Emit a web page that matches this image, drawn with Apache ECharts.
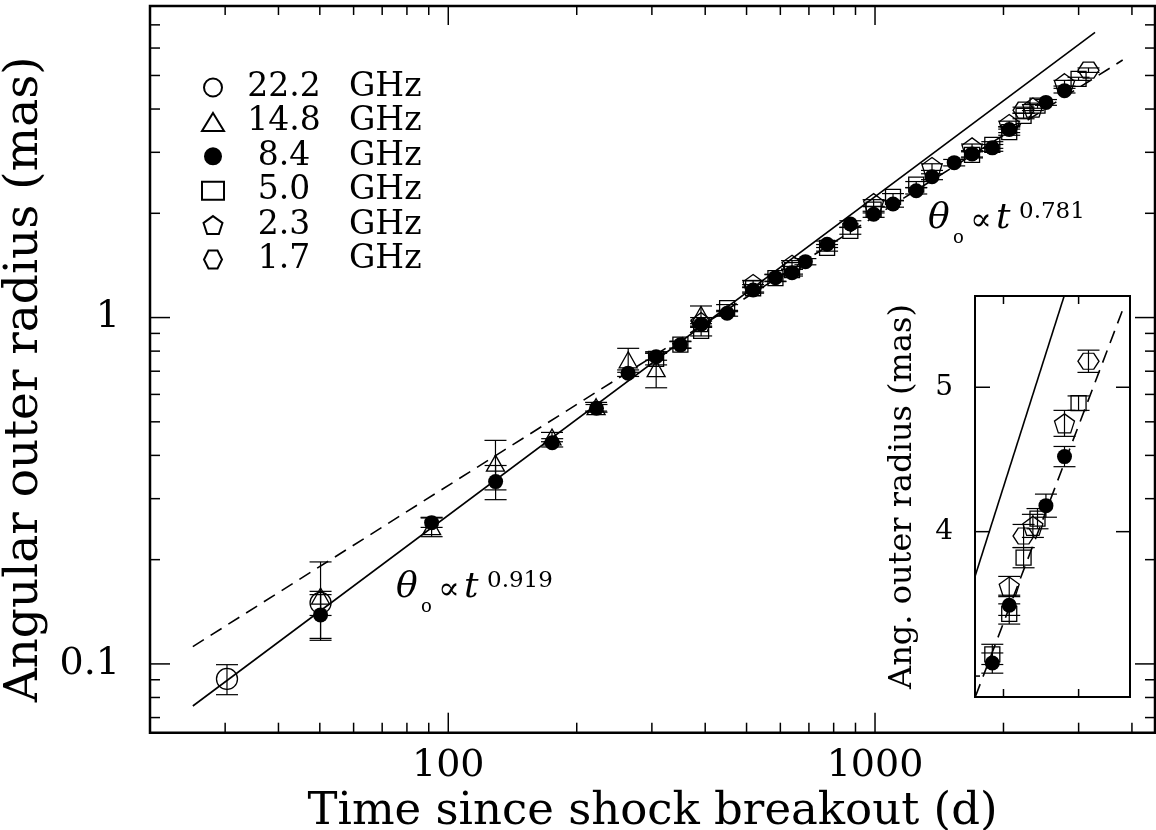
<!DOCTYPE html>
<html lang="en">
<head>
<meta charset="utf-8">
<title>SN 1993J angular expansion</title>
<script src="https://cdn.jsdelivr.net/npm/echarts@6.0.0/dist/echarts.min.js"></script>
<style>
  html, body { margin: 0; padding: 0; background: #ffffff; }
  #chart { width: 1156px; height: 830px; }
</style>
</head>
<body>
<div id="chart"></div>
<script>
// Angular outer radius by epoch, one list per observing band:
// [days since shock breakout, radius (mas), 1-sigma error (mas)]
const band222 = [
  [30.3, 0.0905, 0.009], [50.2, 0.150, 0.012]
];
const band148 = [
  [50.2, 0.157, 0.040], [91.4, 0.249, 0.016], [129, 0.380, 0.062], [175, 0.452, 0.014],
  [222, 0.553, 0.016], [264, 0.755, 0.060], [307, 0.712, 0.085], [391, 1.02, 0.06]
];
const band84 = [
  [50.2, 0.1385, 0.020], [91.4, 0.2558, 0.008], [129.1, 0.336, 0.038], [175.2, 0.435, 0.012],
  [222.5, 0.547, 0.014], [263.9, 0.691, 0.015], [306.9, 0.771, 0.018], [349.9, 0.834, 0.018],
  [391.3, 0.957, 0.020], [450.2, 1.029, 0.020], [518, 1.201, 0.025], [584.3, 1.304, 0.030],
  [639, 1.348, 0.030], [686.8, 1.450, 0.030], [772.1, 1.628, 0.035], [875.3, 1.863, 0.040],
  [992.5, 1.987, 0.040], [1102, 2.128, 0.045], [1249, 2.324, 0.050], [1360, 2.551, 0.050],
  [1533, 2.801, 0.060], [1688, 2.968, 0.060], [1883, 3.09, 0.070], [2063, 3.49, 0.070],
  [2515, 4.18, 0.080], [2780, 4.52, 0.070]
];
const band50 = [
  [306.9, 0.760, 0.030], [349.9, 0.835, 0.020], [391.3, 0.915, 0.030], [450.2, 1.065, 0.025],
  [518, 1.215, 0.030], [584.3, 1.300, 0.030], [639, 1.370, 0.035], [772.1, 1.590, 0.035],
  [875.3, 1.780, 0.040], [992.5, 2.050, 0.045], [1102, 2.230, 0.050], [1249, 2.420, 0.050],
  [1688, 2.950, 0.060], [1883, 3.15, 0.070], [2063, 3.43, 0.070], [2229, 3.82, 0.070],
  [2403, 4.09, 0.070], [2999, 4.89, 0.050]
];
const band23 = [
  [391.3, 0.970, 0.030], [518, 1.250, 0.030], [639, 1.420, 0.040], [992.5, 2.140, 0.050],
  [1360, 2.720, 0.060], [1688, 3.100, 0.070], [2063, 3.62, 0.070], [2344, 4.04, 0.080],
  [2780, 4.75, 0.090]
];
const band17 = [
  [2229, 3.97, 0.080], [3164, 5.18, 0.077]
];

// Power-law fits, each drawn as the straight segment between its end points [day, mas]
const fitSteep = [[25.2, 0.0756], [3278, 6.66]];     // theta_o ~ t^0.919
const fitShallow = [[25.2, 0.1122], [3805, 5.54]];   // theta_o ~ t^0.781
// The same two fits across the late-time window
const insetFitSteep = [[1715, 3.69], [2775, 5.632]];
const insetFitShallow = [[1720, 2.86], [3810, 5.54]];
const fitExponents = ['0.919', '0.781'];

// Axis ranges, ticks and labelled values
const X_RANGE = [20, 4530];
const Y_RANGE = [0.0633, 7.935];
const INSET_X_RANGE = [1715, 3959];
const INSET_Y_RANGE = [2.855, 5.632];
const xMajorTicks = [100, 1000];
const xMinorTicks = [30, 40, 50, 60, 70, 80, 90, 200, 300, 400, 500, 600, 700, 800, 900, 2000, 3000, 4000];
const yMajorTicks = [0.1, 1];
const yMinorTicks = [0.07, 0.08, 0.09, 0.2, 0.3, 0.4, 0.5, 0.6, 0.7, 0.8, 0.9, 2, 3, 4, 5, 6, 7];
const insetXTicks = [2000, 3000];
const insetYTicks = [4, 5];
const insetYMinorTicks = [3];
const xLabels = [100, 1000];
const yLabels = [0.1, 1];
const insetYLabels = [4, 5];

const FONT = 'DejaVu Serif';
const INK = '#000000';
const PENTAGON = 'path://M50,0 L97.55,34.55 L79.39,90.45 L20.61,90.45 L2.45,34.55 Z';
const HEXAGON = 'path://M0,50 L25,0 L75,0 L100,50 L75,100 L25,100 Z';

const bands = [
  { name: '22.2 GHz', data: band222, symbol: 'circle', size: 21, filled: false },
  { name: '14.8 GHz', data: band148, symbol: 'triangle', size: [18, 16], filled: false },
  { name: '8.4 GHz', data: band84, symbol: 'circle', size: 15, filled: true },
  { name: '5.0 GHz', data: band50, symbol: 'rect', size: 15, filled: false },
  { name: '2.3 GHz', data: band23, symbol: PENTAGON, size: 20, filled: false },
  { name: '1.7 GHz', data: band17, symbol: HEXAGON, size: [21, 16], filled: false }
];

function labelFormatter(values) {
  return function (v) {
    for (const L of values) {
      if (Math.abs(v - L) <= Math.abs(L) * 1e-6) return String(L);
    }
    return '';
  };
}

// Error bar: vertical stroke with a horizontal cap at each end
function renderErrorBar(params, api) {
  const t = api.value(0), v = api.value(1), e = api.value(2);
  const hi = api.coord([t, v + e]);
  const lo = api.coord([t, v - e]);
  const w = 11;
  const style = { stroke: INK, lineWidth: 1.2 };
  return {
    type: 'group',
    children: [
      { type: 'line', shape: { x1: hi[0], y1: hi[1], x2: lo[0], y2: lo[1] }, style },
      { type: 'line', shape: { x1: hi[0] - w, y1: hi[1], x2: hi[0] + w, y2: hi[1] }, style },
      { type: 'line', shape: { x1: lo[0] - w, y1: lo[1], x2: lo[0] + w, y2: lo[1] }, style }
    ]
  };
}

// Tick marks placed through the axis scales; lengths are given per frame side
function tickRenderer(xRef, yRef, xSets, ySets) {
  return function (params, api) {
    const cs = params.coordSys;
    const left = cs.x, right = cs.x + cs.width, top = cs.y, bottom = cs.y + cs.height;
    const style = { stroke: INK, lineWidth: 1.5 };
    const children = [];
    xSets.forEach(function (set) {
      set.values.forEach(function (v) {
        const px = api.coord([v, yRef])[0];
        if (set.bottom) children.push({ type: 'line', shape: { x1: px, y1: bottom, x2: px, y2: bottom - set.bottom }, style });
        if (set.top) children.push({ type: 'line', shape: { x1: px, y1: top, x2: px, y2: top + set.top }, style });
      });
    });
    ySets.forEach(function (set) {
      set.values.forEach(function (v) {
        const py = api.coord([xRef, v])[1];
        if (set.left) children.push({ type: 'line', shape: { x1: left, y1: py, x2: left + set.left, y2: py }, style });
        if (set.right) children.push({ type: 'line', shape: { x1: right, y1: py, x2: right - set.right, y2: py }, style });
      });
    });
    return { type: 'group', children };
  };
}

function inInset(d) {
  return d[0] >= INSET_X_RANGE[0] && d[0] <= INSET_X_RANGE[1];
}

const series = [];

// Power-law fit lines
function fitLine(data, dashed, xi) {
  return {
    type: 'line', data: data, xAxisIndex: xi, yAxisIndex: xi,
    showSymbol: false, symbol: 'none', silent: true, z: 2, clip: true,
    lineStyle: { color: INK, width: 1.6, opacity: 1, type: dashed ? [13, 8] : 'solid' }
  };
}
series.push(fitLine(fitSteep, false, 0));
series.push(fitLine(fitShallow, true, 0));
series.push(fitLine(insetFitSteep, false, 1));
series.push(fitLine(insetFitShallow, true, 1));

bands.forEach(function (b) {
  const itemStyle = b.filled
    ? { color: INK, borderColor: INK, borderWidth: 0, opacity: 1 }
    : { color: 'rgba(0,0,0,0)', borderColor: INK, borderWidth: 1.3, opacity: 1 };
  [0, 1].forEach(function (gi) {
    const rows = gi === 0 ? b.data : b.data.filter(inInset);
    series.push({
      type: 'custom', name: b.name + ' error', xAxisIndex: gi, yAxisIndex: gi,
      data: rows, encode: { x: 0, y: 1 }, renderItem: renderErrorBar,
      silent: true, z: 3, clip: gi === 1
    });
    series.push({
      type: 'scatter', name: b.name, xAxisIndex: gi, yAxisIndex: gi,
      data: rows.map(function (d) { return [d[0], d[1]]; }),
      symbol: b.symbol, symbolSize: b.size, symbolKeepAspect: true,
      itemStyle: itemStyle, silent: true, z: 4, clip: gi === 1
    });
  });
});

// Frame tick marks
series.push({
  type: 'custom', xAxisIndex: 0, yAxisIndex: 0, silent: true, z: 5,
  data: [[X_RANGE[0], Y_RANGE[0]]], encode: { x: 0, y: 1 },
  renderItem: tickRenderer(X_RANGE[0], Y_RANGE[0],
    [{ values: xMajorTicks, bottom: 20, top: 19 }, { values: xMinorTicks, bottom: 10, top: 9 }],
    [{ values: yMajorTicks, left: 20, right: 20 }, { values: yMinorTicks, left: 10, right: 10 }])
});
series.push({
  type: 'custom', xAxisIndex: 1, yAxisIndex: 1, silent: true, z: 5,
  data: [[INSET_X_RANGE[0], INSET_Y_RANGE[0]]], encode: { x: 0, y: 1 },
  renderItem: tickRenderer(INSET_X_RANGE[0], INSET_Y_RANGE[0],
    [{ values: insetXTicks, bottom: 8, top: 8 }],
    [{ values: insetYTicks, left: 15, right: 14 }, { values: insetYMinorTicks, left: 5, right: 0 }])
});

// Fit annotation: theta_o proportional to t^k
function fitAnnotation(x, y, exponent) {
  const base = { fill: INK, fontFamily: FONT, verticalAlign: 'middle', align: 'left' };
  return [
    { type: 'text', x: x, y: y, silent: true, style: Object.assign({ text: 'θ', fontSize: 36, fontStyle: 'italic' }, base) },
    { type: 'text', x: x + 25, y: y + 19, silent: true, style: Object.assign({ text: 'o', fontSize: 18 }, base) },
    { type: 'text', x: x + 42, y: y + 3, silent: true, style: Object.assign({ text: '∝', fontSize: 32 }, base) },
    { type: 'text', x: x + 68, y: y, silent: true, style: Object.assign({ text: 't', fontSize: 36, fontStyle: 'italic' }, base) },
    { type: 'text', x: x + 91, y: y - 7, silent: true, style: Object.assign({ text: exponent, fontSize: 23 }, base) }
  ];
}

const option = {
  animation: false,
  backgroundColor: '#ffffff',
  grid: [
    { left: 150, top: 6, width: 1005, height: 726.7, containLabel: false, outerBoundsMode: 'none',
      show: true, borderColor: INK, borderWidth: 2.5, backgroundColor: 'rgba(0,0,0,0)' },
    { left: 975, top: 296, width: 155, height: 401, containLabel: false, outerBoundsMode: 'none',
      show: true, borderColor: INK, borderWidth: 2, backgroundColor: '#ffffff', z: 1 }
  ],
  xAxis: [
    {
      type: 'log', logBase: 10, gridIndex: 0, min: X_RANGE[0], max: X_RANGE[1],
      axisLine: { show: false }, axisTick: { show: false }, splitLine: { show: false },
      axisLabel: { formatter: labelFormatter(xLabels), showMinLabel: false, showMaxLabel: false,
        fontFamily: FONT, fontSize: 38, color: INK, margin: 14 },
      name: 'Time since shock breakout (d)', nameLocation: 'middle', nameGap: 46,
      nameTextStyle: { fontFamily: FONT, fontSize: 45, color: INK }
    },
    {
      type: 'log', logBase: 10, gridIndex: 1, min: INSET_X_RANGE[0], max: INSET_X_RANGE[1],
      axisLine: { show: false }, axisTick: { show: false }, splitLine: { show: false },
      axisLabel: { show: false }
    }
  ],
  yAxis: [
    {
      type: 'log', logBase: 10, gridIndex: 0, min: Y_RANGE[0], max: Y_RANGE[1],
      axisLine: { show: false }, axisTick: { show: false }, splitLine: { show: false },
      axisLabel: { formatter: labelFormatter(yLabels), showMinLabel: false, showMaxLabel: false,
        fontFamily: FONT, fontSize: 38, color: INK, margin: 30 },
      name: 'Angular outer radius (mas)', nameLocation: 'middle', nameGap: 93, nameRotate: 90,
      nameTextStyle: { fontFamily: FONT, fontSize: 47, color: INK, padding: [0, 20, 0, 0] }
    },
    {
      type: 'value', gridIndex: 1, min: INSET_Y_RANGE[0], max: INSET_Y_RANGE[1],
      axisLine: { show: false }, axisTick: { show: false }, splitLine: { show: false },
      axisLabel: { formatter: labelFormatter(insetYLabels), showMinLabel: false, showMaxLabel: false,
        fontFamily: FONT, fontSize: 28, color: INK, margin: 22 },
      name: 'Ang. outer radius (mas)', nameLocation: 'middle', nameGap: 56, nameRotate: 90,
      nameTextStyle: { fontFamily: FONT, fontSize: 32, color: INK }
    }
  ],
  legend: {
    orient: 'vertical', left: 201, top: 71, padding: 0, itemGap: 1.4,
    itemWidth: 22, itemHeight: 18, selectedMode: false,
    data: bands.map(function (b) { return { name: b.name, icon: b.symbol }; }),
    formatter: function (name) {
      const parts = name.split(' ');
      return '{n|' + parts[0] + '}{u|' + parts[1] + '}';
    },
    textStyle: {
      fontFamily: FONT, fontSize: 33, color: INK, lineHeight: 30,
      rich: {
        n: { fontFamily: FONT, fontSize: 33, color: INK, width: 110, align: 'right', lineHeight: 30 },
        u: { fontFamily: FONT, fontSize: 33, color: INK, padding: [0, 0, 0, 10], lineHeight: 30 }
      }
    }
  },
  graphic: fitAnnotation(396, 588, fitExponents[0]).concat(fitAnnotation(928, 219, fitExponents[1])),
  series: series
};

const chart = echarts.init(document.getElementById('chart'), null, { renderer: 'canvas' });
chart.setOption(option);
</script>
</body>
</html>
